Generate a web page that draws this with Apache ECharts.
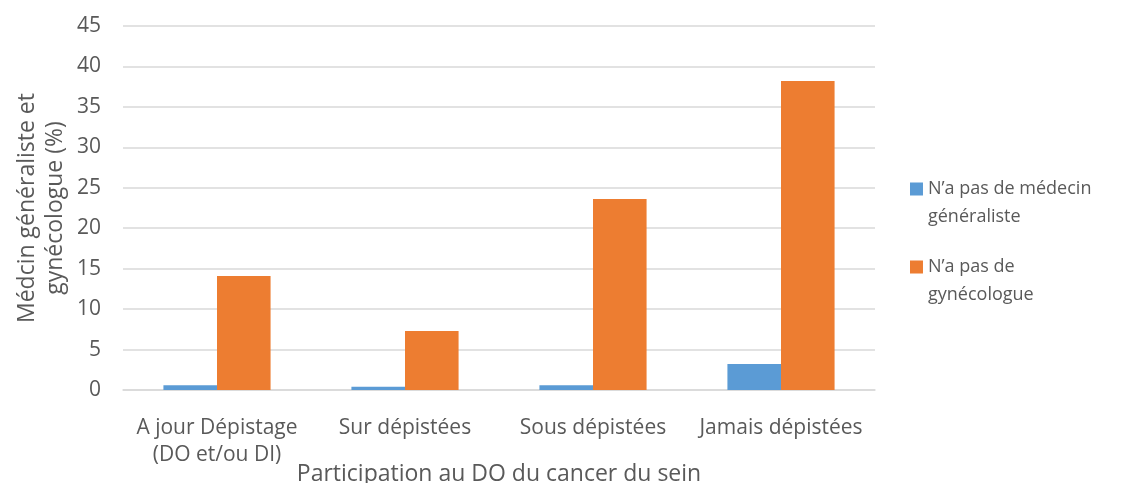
<!DOCTYPE html>
<html>
<head>
<meta charset="utf-8">
<script src="https://cdn.jsdelivr.net/npm/echarts@6/dist/echarts.min.js"></script>
<style>
  html, body { margin: 0; padding: 0; background: #fff; }
  #chart { width: 1123px; height: 483px; }
</style>
</head>
<body>
<div id="chart"></div>
<script>
// Categories of screening participation
const categories = ['A jour Dépistage\n(DO et/ou DI)', 'Sur dépistées', 'Sous dépistées', 'Jamais dépistées'];
// Share of women without a GP (%)
const sansGeneraliste = [0.6, 0.4, 0.6, 3.2];
// Share of women without a gynecologist (%)
const sansGynecologue = [14.1, 7.3, 23.6, 38.2];

const FONT = '"Open Sans", sans-serif';
const TEXT = '#595959';
// square swatch aligned with the first line of a two-line legend entry
const SWATCH = 'path://M0,0H13V13H0Z M0,41H0.05V41.05H0Z';

const chart = echarts.init(document.getElementById('chart'));
chart.setOption({
  animation: false,
  textStyle: { fontFamily: FONT, color: TEXT },
  grid: { left: 123, right: 248, top: 26, bottom: 93, containLabel: false, outerBoundsMode: 'none' },
  legend: {
    orient: 'vertical',
    left: 905,
    top: 170,
    itemWidth: 13,
    itemHeight: 41,
    itemGap: 22,
    icon: SWATCH,
    textStyle: { fontFamily: FONT, color: TEXT, fontSize: 18, lineHeight: 28 },
    data: ['N’a pas de médecin\ngénéraliste', 'N’a pas de\ngynécologue']
  },
  xAxis: {
    type: 'category',
    data: categories,
    name: 'Participation au DO du cancer du sein',
    nameLocation: 'middle',
    nameMoveOverlap: false,
    nameGap: 73,
    nameTextStyle: { fontFamily: FONT, color: TEXT, fontSize: 23 },
    axisLine: { lineStyle: { color: '#d9d9d9', width: 1.5 } },
    axisTick: { show: false },
    axisLabel: { fontFamily: FONT, color: TEXT, fontSize: 21, lineHeight: 27, margin: 25, interval: 0, hideOverlap: false }
  },
  yAxis: {
    type: 'value',
    min: 0,
    max: 45,
    interval: 5,
    name: 'Médcin généraliste et\ngynécologue (%)',
    nameLocation: 'middle',
    nameMoveOverlap: false,
    nameRotate: 90,
    nameGap: 54,
    nameTextStyle: { fontFamily: FONT, color: TEXT, fontSize: 23, lineHeight: 28 },
    axisLine: { show: false },
    axisTick: { show: false },
    axisLabel: { fontFamily: FONT, color: TEXT, fontSize: 21, margin: 22 },
    splitLine: { lineStyle: { color: '#d9d9d9', width: 1.5 } }
  },
  series: [
    {
      name: 'N’a pas de médecin\ngénéraliste',
      type: 'bar',
      data: sansGeneraliste,
      barGap: '0%',
      barCategoryGap: '43%',
      itemStyle: { color: '#5b9bd5' }
    },
    {
      name: 'N’a pas de\ngynécologue',
      type: 'bar',
      data: sansGynecologue,
      barCategoryGap: '43%',
      itemStyle: { color: '#ed7d31' }
    }
  ]
});
</script>
</body>
</html>
